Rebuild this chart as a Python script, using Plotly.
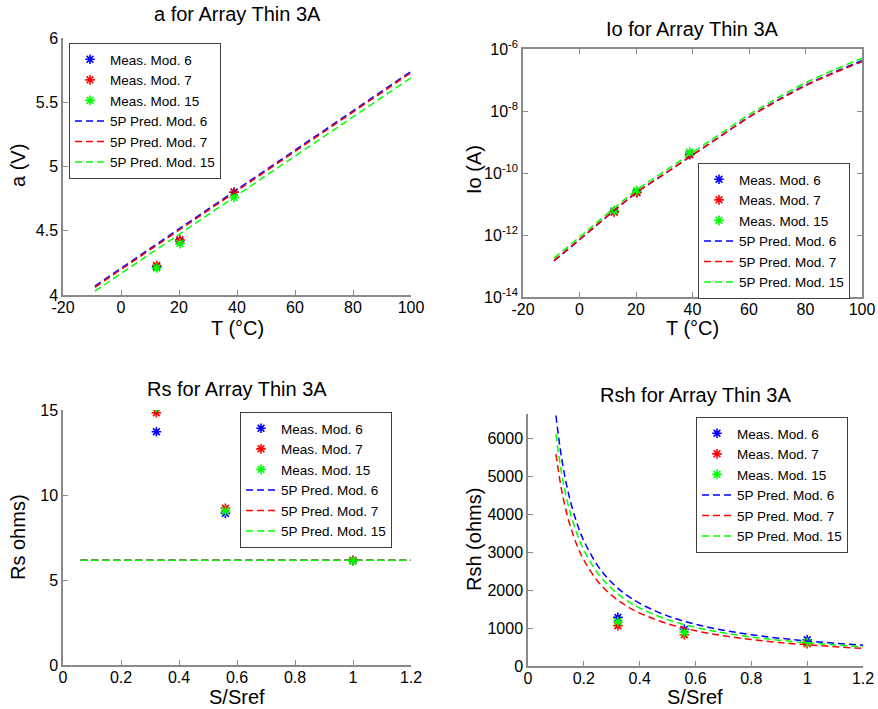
import plotly.graph_objects as go

# ---------------- data ----------------
colors = ["#0000FF", "#FF0000", "#00FF00"]
meas_names = ["Meas. Mod. 6", "Meas. Mod. 7", "Meas. Mod. 15"]
pred_names = ["5P Pred. Mod. 6", "5P Pred. Mod. 7", "5P Pred. Mod. 15"]

# a vs T
T_meas = [12.3, 20.3, 39.0]
a_meas_6 = [4.22, 4.42, 4.80]
a_meas_7 = [4.23, 4.43, 4.80]
a_meas_15 = [4.21, 4.40, 4.76]
T_pred_a = [-9, 100]
a_pred_6 = [4.07, 5.74]
a_pred_7 = [4.06, 5.73]
a_pred_15 = [4.03, 5.69]
T_ticks = [-20, 0, 20, 40, 60, 80, 100]
T_ticktext = ["-20", "0", "20", "40", "60", "80", "100"]

# Io vs T
io_meas_6 = [5.6e-12, 2.4e-11, 4.0e-10]
io_meas_7 = [5.5e-12, 2.3e-11, 3.9e-10]
io_meas_15 = [6.2e-12, 2.7e-11, 4.7e-10]
T_pred_io = [-9, 0, 10, 20, 30, 40, 50, 60, 70, 80, 90, 100]
io_pred_6 = [1.45e-13, 7.0e-13, 4.1e-12, 2.25e-11, 9.2e-11, 3.8e-10, 1.55e-9, 6.4e-9, 2.2e-8, 6.8e-8, 1.75e-7, 4.2e-7]
io_pred_7 = [1.51e-13, 7.2e-13, 4.2e-12, 2.3e-11, 9.3e-11, 3.8e-10, 1.55e-9, 6.3e-9, 2.1e-8, 6.5e-8, 1.66e-7, 3.9e-7]
io_pred_15 = [1.8e-13, 8.6e-13, 5.0e-12, 2.75e-11, 1.12e-10, 4.6e-10, 1.88e-9, 7.6e-9, 2.6e-8, 8.1e-8, 2.1e-7, 5.0e-7]
io_tickvals = [1e-14, 1e-12, 1e-10, 1e-8, 1e-6]
io_ticktext = ["10<sup>-14</sup>", "10<sup>-12</sup>", "10<sup>-10</sup>", "10<sup>-8</sup>", "10<sup>-6</sup>"]

# Rs vs S/Sref
S_meas = [0.322, 0.56, 1.0]
rs_meas_6 = [13.72, 8.92, 6.14]
rs_meas_7 = [14.84, 9.22, 6.16]
rs_meas_15 = [15.16, 9.06, 6.12]
S_pred_rs = [0.06, 1.2]
rs_pred_6 = [6.16, 6.16]
rs_pred_7 = [6.16, 6.16]
rs_pred_15 = [6.16, 6.16]
S_ticks = [0, 0.2, 0.4, 0.6, 0.8, 1, 1.2]
S_ticktext = ["0", "0.2", "0.4", "0.6", "0.8", "1", "1.2"]

# Rsh vs S/Sref
rsh_meas_6 = [1280, 965, 690]
rsh_meas_7 = [1060, 825, 585]
rsh_meas_15 = [1170, 890, 620]
S_pred_rsh = [0.1, 0.12, 0.14, 0.16, 0.18, 0.2, 0.25, 0.3, 0.35, 0.4, 0.5, 0.6, 0.7, 0.8, 0.9, 1.0, 1.1, 1.2]
rsh_pred_6 = [6600, 5500, 4710, 4125, 3665, 3300, 2640, 2200, 1885, 1650, 1320, 1100, 943, 825, 733, 660, 600, 550]
rsh_pred_7 = [5580, 4650, 3985, 3490, 3100, 2790, 2230, 1860, 1595, 1395, 1116, 930, 797, 698, 620, 558, 507, 465]
rsh_pred_15 = [6110, 5090, 4365, 3820, 3395, 3055, 2445, 2035, 1745, 1528, 1222, 1018, 873, 764, 679, 611, 555, 509]

# ---------------- figure ----------------
W, H = 878, 709
FONT = "Arial, Liberation Sans, sans-serif"
fig = go.Figure()

def px_x(p):
    return p / W

def px_y(p):
    return 1 - p / H

panels = [
    ("x", "y", "legend", T_meas, [a_meas_6, a_meas_7, a_meas_15], T_pred_a, [a_pred_6, a_pred_7, a_pred_15], "linear"),
    ("x2", "y2", "legend2", T_meas, [io_meas_6, io_meas_7, io_meas_15], T_pred_io, [io_pred_6, io_pred_7, io_pred_15], "spline"),
    ("x3", "y3", "legend3", S_meas, [rs_meas_6, rs_meas_7, rs_meas_15], S_pred_rs, [rs_pred_6, rs_pred_7, rs_pred_15], "linear"),
    ("x4", "y4", "legend4", S_meas, [rsh_meas_6, rsh_meas_7, rsh_meas_15], S_pred_rsh, [rsh_pred_6, rsh_pred_7, rsh_pred_15], "spline"),
]

for xa, ya, lg, mx, mys, px, pys, shape in panels:
    for i in range(3):
        fig.add_trace(go.Scatter(
            x=mx, y=mys[i], mode="markers", name=meas_names[i],
            marker=dict(symbol="asterisk-open", size=8, color=colors[i],
                        line=dict(color=colors[i], width=1.6)),
            xaxis=xa, yaxis=ya, legend=lg))
    for i in range(3):
        fig.add_trace(go.Scatter(
            x=px, y=pys[i], mode="lines", name=pred_names[i],
            line=dict(color=colors[i], width=1.5, dash="7px,4px", shape=shape),
            xaxis=xa, yaxis=ya, legend=lg))

axis_common = dict(showline=True, linecolor="#8a8a8a", linewidth=1.5, ticks="inside",
                   ticklen=5, tickcolor="#8a8a8a", showgrid=False, zeroline=False,
                   automargin=False,
                   tickfont=dict(family=FONT, size=16, color="black"))
xaxis_extra = dict(ticklabelstandoff=-3)

def dom_x(a, b):
    return [px_x(a), px_x(b)]

def dom_y(top, bottom):
    return [px_y(bottom), px_y(top)]

fig.update_layout(
    width=W, height=H, margin=dict(l=0, r=0, t=0, b=0, pad=0, autoexpand=False),
    paper_bgcolor="white", plot_bgcolor="white",
    font=dict(family=FONT, size=14, color="black"),
    xaxis=dict(domain=dom_x(63, 411), range=[-20, 100], tickvals=T_ticks, ticktext=T_ticktext,
               anchor="y", **axis_common, **xaxis_extra),
    yaxis=dict(domain=dom_y(38, 295), range=[4, 6], tickvals=[4, 4.5, 5, 5.5, 6],
               anchor="x", **axis_common),
    xaxis2=dict(domain=dom_x(523, 862), range=[-20, 100], tickvals=T_ticks, ticktext=T_ticktext,
                anchor="y2", mirror="ticks", **axis_common, **xaxis_extra),
    yaxis2=dict(domain=dom_y(49, 297), type="log", range=[-14, -6], tickvals=io_tickvals,
                ticktext=io_ticktext, anchor="x2", mirror="ticks", **axis_common),
    xaxis3=dict(domain=dom_x(63, 411), range=[0, 1.2], tickvals=S_ticks,
                ticktext=S_ticktext, anchor="y3", **axis_common, **xaxis_extra),
    yaxis3=dict(domain=dom_y(410, 665), range=[0, 15], tickvals=[0, 5, 10, 15],
                anchor="x3", **axis_common),
    xaxis4=dict(domain=dom_x(528, 863), range=[0, 1.2], tickvals=S_ticks,
                ticktext=S_ticktext, anchor="y4", **axis_common, **xaxis_extra),
    yaxis4=dict(domain=dom_y(414, 666), range=[0, 6640], tickvals=[0, 1000, 2000, 3000, 4000, 5000, 6000],
                anchor="x4", **axis_common),
)

legend_common = dict(bgcolor="white", bordercolor="#404040", borderwidth=1,
                     font=dict(family=FONT, size=13.5, color="black"),
                     xanchor="left", yanchor="top", tracegroupgap=0)
fig.update_layout(
    legend=dict(x=px_x(69), y=px_y(43), **legend_common),
    legend2=dict(x=px_x(698), y=px_y(163), **legend_common),
    legend3=dict(x=px_x(240), y=px_y(412), **legend_common),
    legend4=dict(x=px_x(696), y=px_y(417), **legend_common),
)

def text(x, y, s, angle=0, size=20):
    fig.add_annotation(x=px_x(x), y=px_y(y), xref="paper", yref="paper", text=s,
                       showarrow=False, textangle=angle, xanchor="center", yanchor="middle",
                       font=dict(family=FONT, size=size, color="black"))

# titles
text(237, 14, "a for Array Thin 3A")
text(692, 29, "Io for Array Thin 3A")
text(237, 389, "Rs for Array Thin 3A")
text(695, 395, "Rsh for Array Thin 3A")
# axis labels
text(237, 328, "T (°C)")
text(692, 328, "T (°C)")
text(237, 697, "S/Sref")
text(695, 697, "S/Sref")
text(18, 166, "a (V)", angle=-90)
text(474, 170, "Io (A)", angle=-90)
text(18, 537, "Rs ohms)", angle=-90)
text(474, 540, "Rsh (ohms)", angle=-90)

fig.write_html("out.html", config={"displayModeBar": False},
               post_script="document.body.style.margin='0px';document.body.style.padding='0px';")
